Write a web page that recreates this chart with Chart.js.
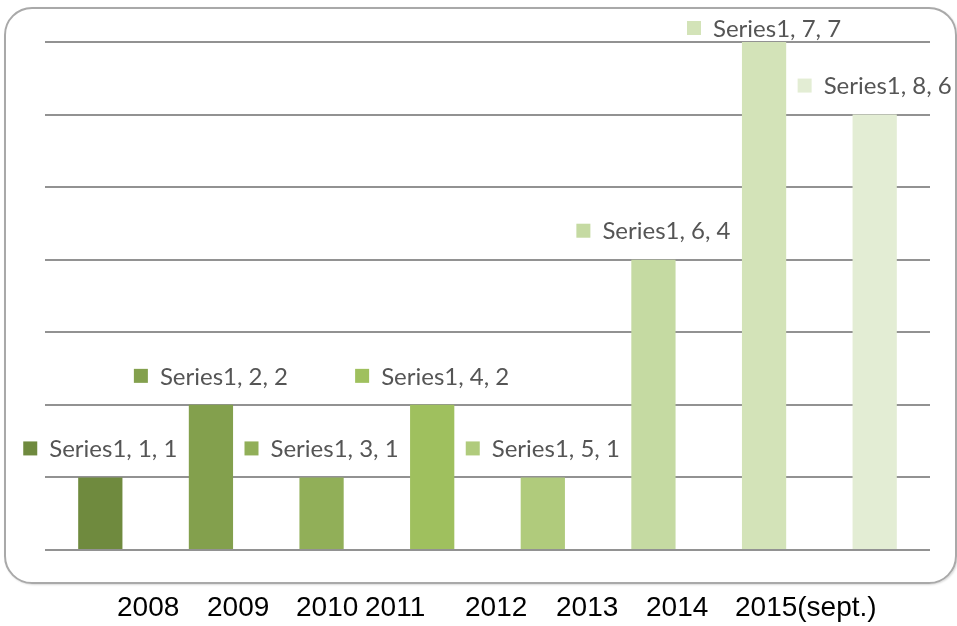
<!DOCTYPE html>
<html>
<head>
<meta charset="utf-8">
<script src="https://cdn.jsdelivr.net/npm/chart.js@4.4.1/dist/chart.umd.min.js"></script>
<style>
  html, body { margin: 0; padding: 0; background: #fff; }
  #wrap { position: relative; width: 957px; height: 626px; overflow: hidden; }
  #frame {
    position: absolute; left: 4px; top: 7px; width: 949px; height: 573px;
    border: 2px solid #a9a9a9; border-radius: 28px;
    box-shadow: 1px 1px 2px rgba(0,0,0,0.15);
  }
  #chart { position: absolute; left: 0; top: 0; }
  .year {
    position: absolute; top: 591px; font-family: "Liberation Sans", Arial, sans-serif;
    font-size: 28px; color: #000; line-height: 32px; white-space: nowrap;
  }
</style>
</head>
<body>
<div id="wrap">
  <div id="frame"></div>
  <canvas id="chart" width="957" height="626"></canvas>
</div>
<script>
// data
const seriesName = 'Series1';
const categories = [1, 2, 3, 4, 5, 6, 7, 8];
const values = [1, 2, 1, 2, 1, 4, 7, 6];
const yearLabels = ['2008', '2009', '2010', '2011', '2012', '2013', '2014', '2015(sept.)'];

const barColors = ['#6f8a3e', '#83a04d', '#91af58', '#9fc05e', '#b0cb7c', '#c5daa2', '#d3e3b8', '#e3edd4'];

// year caption row under the frame (spacing as in the original text line)
const yearLeft = [117, 207, 296, 365, 465, 556, 646, 735];
yearLabels.forEach((t, i) => {
  const s = document.createElement('div');
  s.className = 'year';
  s.style.left = yearLeft[i] + 'px';
  s.textContent = t;
  document.getElementById('wrap').appendChild(s);
});

// little "legend key" labels above each bar
const pointLabels = {
  id: 'pointLabels',
  afterDatasetsDraw(chart) {
    const ctx = chart.ctx;
    const meta = chart.getDatasetMeta(0);
    ctx.save();
    ctx.font = '24px Lato, "Open Sans", sans-serif';
    ctx.textBaseline = 'middle';
    meta.data.forEach((bar, i) => {
      const text = `${seriesName}, ${categories[i]}, ${values[i]}`;
      const tw = ctx.measureText(text).width;
      const box = 14, gap = 12;
      const total = box + gap + tw;
      const left = bar.x - total / 2;
      const cy = Math.max(bar.y - 29, 28);
      ctx.fillStyle = barColors[i];
      ctx.fillRect(left, cy - box / 2, box, box);
      ctx.fillStyle = '#555555';
      ctx.fillText(text, left + box + gap, cy + 1);
    });
    ctx.restore();
  }
};

new Chart(document.getElementById('chart'), {
  type: 'bar',
  data: {
    labels: categories,
    datasets: [{
      data: values,
      backgroundColor: barColors,
      borderWidth: 0,
      barPercentage: 0.4,
      categoryPercentage: 1
    }]
  },
  options: {
    responsive: false,
    animation: false,
    layout: { padding: { left: 45, right: 27, top: 42, bottom: 76 } },
    plugins: { legend: { display: false }, tooltip: { enabled: false } },
    scales: {
      x: { display: false },
      y: {
        min: 0, max: 7,
        ticks: { display: false, stepSize: 1 },
        border: { display: false },
        grid: { color: '#929292', lineWidth: 2, drawTicks: false, z: -1 },
        afterFit: s => { s.width = 0; }
      }
    }
  },
  plugins: [pointLabels]
});
</script>
</body>
</html>
